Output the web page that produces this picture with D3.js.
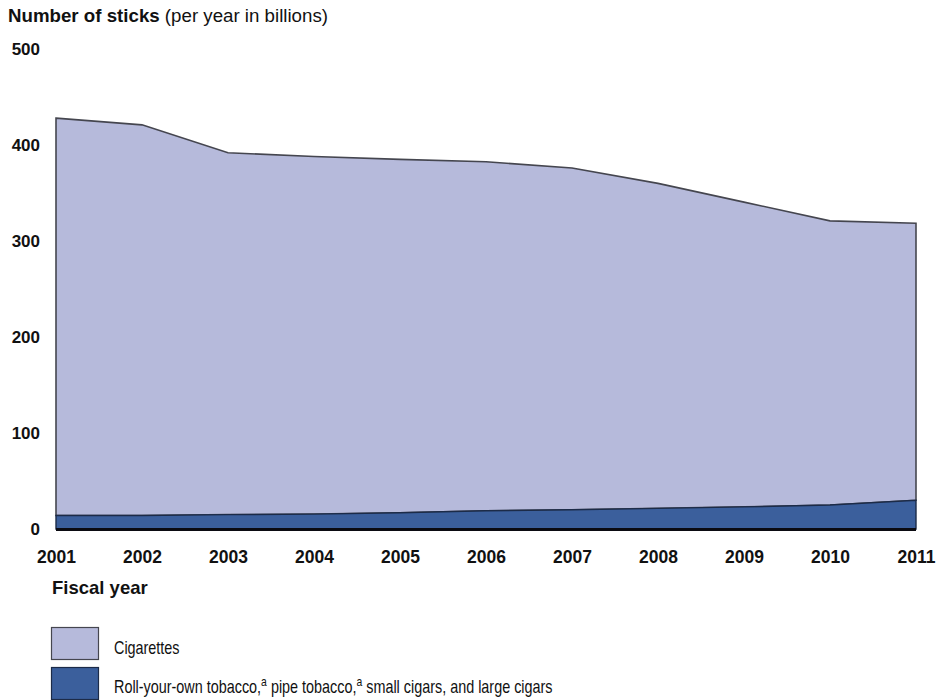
<!DOCTYPE html>
<html>
<head>
<meta charset="utf-8">
<script src="https://cdn.jsdelivr.net/npm/d3@7"></script>
<style>
  html, body { margin: 0; padding: 0; background: #fff; }
  svg { display: block; font-family: "Liberation Sans", Arial, sans-serif; }
</style>
</head>
<body>
<svg id="chart" width="952" height="700"></svg>
<script>
const years = [2001, 2002, 2003, 2004, 2005, 2006, 2007, 2008, 2009, 2010, 2011];
const cigarettes = [414, 407, 377, 372.5, 368, 363.5, 356, 338.5, 317.5, 296, 288.5];
const otherTobacco = [14, 14, 15, 15.5, 17, 19, 20, 21.5, 23, 25, 30];
const yTicks = [0, 100, 200, 300, 400, 500];
const seriesNames = ["Cigarettes", "Roll-your-own tobacco, pipe tobacco, small cigars, and large cigars"];
const colors = { cig: "#b6badb", other: "#3b5f9c" };

const svg = d3.select("#chart");
const x = d3.scaleLinear().domain([2001, 2011]).range([56, 916]);
const y = d3.scaleLinear().domain([0, 500]).range([529, 49]);

const rows = years.map((yr, i) => ({ year: yr, other: otherTobacco[i], cig: cigarettes[i] }));
const stack = d3.stack().keys(["other", "cig"]);
const layers = stack(rows);

const area = d3.area()
  .x(d => x(d.data.year))
  .y0(d => y(d[0]))
  .y1(d => y(d[1]));

// Cigarettes (upper layer)
svg.append("path")
  .datum(layers[1])
  .attr("d", area)
  .attr("fill", colors.cig)
  .attr("stroke", "#45464f")
  .attr("stroke-width", 1.6)
  .attr("stroke-linejoin", "miter");

// Other tobacco (lower layer)
svg.append("path")
  .datum(layers[0])
  .attr("d", area)
  .attr("fill", colors.other)
  .attr("stroke", "#1c2b48")
  .attr("stroke-width", 1.4);

// Baseline
svg.append("line")
  .attr("x1", x(2001)).attr("x2", x(2011))
  .attr("y1", y(0) + 0.5).attr("y2", y(0) + 0.5)
  .attr("stroke", "#0b0b12").attr("stroke-width", 3);

// Y axis (labels only)
const yAxis = svg.append("g")
  .attr("transform", "translate(40,0)")
  .call(d3.axisLeft(y).tickValues(yTicks).tickSize(0).tickPadding(0).tickFormat(d3.format("d")));
yAxis.select(".domain").remove();
yAxis.selectAll("text")
  .attr("font-size", 17).attr("font-weight", "bold").attr("fill", "#111")
  .attr("font-family", "Liberation Sans, Arial, sans-serif");

// X axis (labels only)
const xAxis = svg.append("g")
  .attr("transform", "translate(0,551)")
  .call(d3.axisBottom(x).tickValues(years).tickSize(0).tickPadding(0).tickFormat(d3.format("d")));
xAxis.select(".domain").remove();
xAxis.selectAll("text")
  .attr("font-size", 17.5).attr("font-weight", "bold").attr("fill", "#111")
  .attr("font-family", "Liberation Sans, Arial, sans-serif");

// Title
const title = svg.append("text").attr("x", 8).attr("y", 22).attr("font-size", 17.5).attr("fill", "#111")
  .attr("textLength", 320).attr("lengthAdjust", "spacingAndGlyphs");
title.append("tspan").attr("font-weight", "bold").text("Number of sticks");
title.append("tspan").text(" (per year in billions)");

// X axis title
svg.append("text").attr("x", 52).attr("y", 594)
  .attr("font-size", 18.5).attr("font-weight", "bold").attr("fill", "#111")
  .text("Fiscal year");

// Legend
const legend = svg.append("g");
legend.append("rect").attr("x", 51.5).attr("y", 627.5).attr("width", 47).attr("height", 32)
  .attr("fill", colors.cig).attr("stroke", "#45464f").attr("stroke-width", 1.2);
legend.append("g").attr("transform", "translate(114,654) scale(0.8,1)")
  .append("text").attr("x", 0).attr("y", 0).attr("font-size", 18).attr("fill", "#111")
  .text(seriesNames[0]);

legend.append("rect").attr("x", 51.5).attr("y", 667.5).attr("width", 47).attr("height", 32)
  .attr("fill", colors.other).attr("stroke", "#1c2b48").attr("stroke-width", 1.2);
const t2 = legend.append("g").attr("transform", "translate(114,693) scale(0.8,1)")
  .append("text").attr("x", 0).attr("y", 0).attr("font-size", 18).attr("fill", "#111");
t2.append("tspan").text("Roll-your-own tobacco,");
t2.append("tspan").attr("dy", -7).attr("font-size", 13).text("a");
t2.append("tspan").attr("dy", 7).text(" pipe tobacco,");
t2.append("tspan").attr("dy", -7).attr("font-size", 13).text("a");
t2.append("tspan").attr("dy", 7).text(" small cigars, and large cigars");
</script>
</body>
</html>
